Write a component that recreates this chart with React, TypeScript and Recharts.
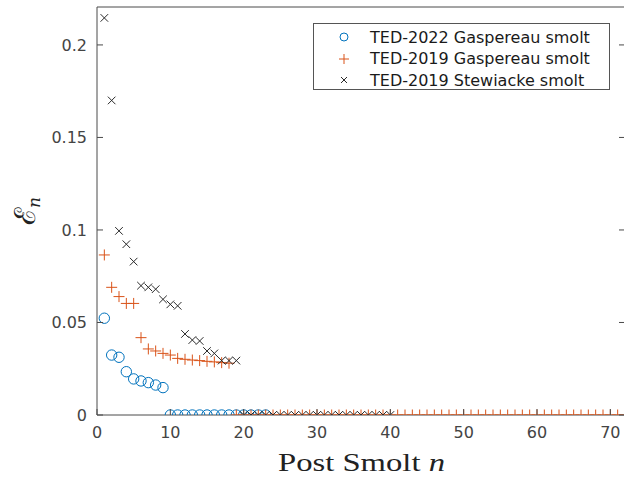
import React from 'react'
import { ScatterChart, Scatter, XAxis, YAxis } from 'recharts'

// Epsilon_n per post-smolt index n (n = 1, 2, ...)
const ted2022Gaspereau = [
  0.0523, 0.0324, 0.0312, 0.0234, 0.0195, 0.0184, 0.0175, 0.0162, 0.0148,
  0, 0, 0, 0, 0, 0, 0, 0, 0, 0, 0, 0, 0, 0,
]
const ted2019Gaspereau = [
  0.0865, 0.069, 0.064, 0.0603, 0.0603, 0.0418, 0.0357, 0.0346, 0.0333, 0.0324,
  0.0306, 0.0301, 0.0297, 0.0294, 0.029, 0.0287, 0.0283, 0.028,
  0, 0, 0, 0, 0, 0, 0, 0, 0, 0, 0, 0, 0, 0, 0, 0, 0, 0, 0, 0, 0, 0,
  0, 0, 0, 0, 0, 0, 0, 0, 0, 0, 0, 0, 0, 0, 0, 0, 0, 0, 0, 0, 0, 0,
  0, 0, 0, 0, 0, 0, 0, 0, 0, 0, 0, 0, 0, 0,
]
const ted2019Stewiacke = [
  0.2146, 0.17, 0.0995, 0.0923, 0.0829, 0.0699, 0.069, 0.068, 0.0625, 0.0598,
  0.059, 0.0438, 0.0405, 0.04, 0.0346, 0.0333, 0.0294, 0.0294, 0.0294,
  0, 0, 0, 0, 0, 0, 0, 0, 0, 0, 0, 0, 0, 0, 0, 0, 0, 0, 0, 0, 0,
]

const xTicks = [0, 10, 20, 30, 40, 50, 60, 70]
const yTicks = [0, 0.05, 0.1, 0.15, 0.2]
const seriesNames = ['TED-2022 Gaspereau smolt', 'TED-2019 Gaspereau smolt', 'TED-2019 Stewiacke smolt']

const BLUE = '#0072BD'
const ORANGE = '#D95319'
const BLACK = '#2a2a2a'
const AXIS = '#4a4a4a'
const LABEL = '#444'
const SANS = 'DejaVu Sans, sans-serif'

const toPoints = (vals: number[]) => vals.map((e, i) => ({ n: i + 1, e }))

const Circle = ({ cx, cy }: any) => <circle cx={cx} cy={cy} r={5.2} fill="none" stroke={BLUE} strokeWidth={1} />
const Plus = ({ cx, cy }: any) => (
  <path d={`M${cx - 5.5},${cy}H${cx + 5.5}M${cx},${cy - 5.5}V${cy + 5.5}`} stroke={ORANGE} strokeWidth={1} />
)
const Cross = ({ cx, cy }: any) => (
  <path d={`M${cx - 3.8},${cy - 3.8}L${cx + 3.8},${cy + 3.8}M${cx - 3.8},${cy + 3.8}L${cx + 3.8},${cy - 3.8}`} stroke={BLACK} strokeWidth={1} />
)

const BottomTick = ({ x, y, payload }: any) => (
  <g>
    <line x1={x} y1={y} x2={x} y2={y - 6} stroke={AXIS} />
    <text x={x} y={y + 23} textAnchor="middle" fontSize={16} fill={LABEL} fontFamily={SANS}>
      {payload.value}
    </text>
  </g>
)
const TopTick = ({ x, y }: any) => <line x1={x} y1={y} x2={x} y2={y + 6} stroke={AXIS} />
const LeftTick = ({ x, y, payload }: any) => (
  <g>
    <line x1={x} y1={y} x2={x + 6} y2={y} stroke={AXIS} />
    <text x={x - 10} y={y + 6} textAnchor="end" fontSize={16} fill={LABEL} fontFamily={SANS}>
      {payload.value}
    </text>
  </g>
)
const RightTick = ({ x, y }: any) => <line x1={x} y1={y} x2={x - 6} y2={y} stroke={AXIS} />

const LegendBox = () => {
  const markers = [
    <circle key="c" cx={8} cy={0} r={4} fill="none" stroke={BLUE} />,
    <path key="p" d="M3,0H13M8,-5V5" stroke={ORANGE} />,
    <path key="x" d="M5,-3L11,3M5,3L11,-3" stroke={BLACK} />,
  ]
  return (
    <div
      style={{
        position: 'absolute', left: 313, top: 23, width: 297, height: 67,
        border: '1px solid #555', background: '#fff', boxSizing: 'border-box',
      }}
    >
      {seriesNames.map((name, i) => (
        <div key={name} style={{ position: 'absolute', left: 0, top: 3 + i * 21.5, height: 20, display: 'flex', alignItems: 'center' }}>
          <svg width={60} height={20} style={{ overflow: 'visible' }}>
            <g transform="translate(22,10)">{markers[i]}</g>
          </svg>
          <span style={{ fontFamily: SANS, fontSize: 16, color: '#1a1a1a', whiteSpace: 'nowrap', marginLeft: -4 }}>
            {name}
          </span>
        </div>
      ))}
    </div>
  )
}

export default function App() {
  return (
    <div style={{ position: 'fixed', left: 0, top: 0, width: 624, height: 483, overflow: 'hidden', background: '#fff' }}>
      <ScatterChart width={632} height={483} margin={{ top: 6, right: 6, bottom: 67, left: 96 }}>
        <XAxis
          type="number"
          dataKey="n"
          domain={[0, 72]}
          ticks={xTicks}
          height={1}
          tickSize={0}
          tickMargin={0}
          tick={<BottomTick />}
          tickLine={false}
          stroke={AXIS}
          allowDataOverflow
        />
        <XAxis
          xAxisId="top"
          orientation="top"
          type="number"
          domain={[0, 72]}
          ticks={xTicks}
          height={1}
          tickSize={0}
          tickMargin={0}
          tick={<TopTick />}
          tickLine={false}
          stroke={AXIS}
          allowDataOverflow
        />
        <YAxis
          type="number"
          dataKey="e"
          domain={[0, 0.2205]}
          ticks={yTicks}
          width={1}
          tickSize={0}
          tickMargin={0}
          tick={<LeftTick />}
          tickLine={false}
          stroke={AXIS}
          allowDataOverflow
        />
        <YAxis
          yAxisId="right"
          orientation="right"
          type="number"
          domain={[0, 0.2205]}
          ticks={yTicks}
          width={1}
          tickSize={0}
          tickMargin={0}
          tick={<RightTick />}
          tickLine={false}
          stroke={AXIS}
          allowDataOverflow
        />
        <Scatter name={seriesNames[0]} data={toPoints(ted2022Gaspereau)} shape={<Circle />} isAnimationActive={false} />
        <Scatter name={seriesNames[1]} data={toPoints(ted2019Gaspereau)} shape={<Plus />} isAnimationActive={false} />
        <Scatter name={seriesNames[2]} data={toPoints(ted2019Stewiacke)} shape={<Cross />} isAnimationActive={false} />
        <text
          x={278}
          y={471}
          fontSize={26}
          fill="#222"
          fontFamily="Liberation Serif, serif"
          textLength={167}
          lengthAdjust="spacingAndGlyphs"
        >
          Post Smolt <tspan fontStyle="italic">n</tspan>
        </text>
        <text transform="translate(35,211) rotate(-90)" textAnchor="middle" fill="#222" fontFamily="DejaVu Serif, serif">
          <tspan fontSize={29}>ℰ</tspan>
          <tspan fontSize={17} fontStyle="italic" dy={5}>n</tspan>
        </text>
      </ScatterChart>
      <LegendBox />
    </div>
  )
}
